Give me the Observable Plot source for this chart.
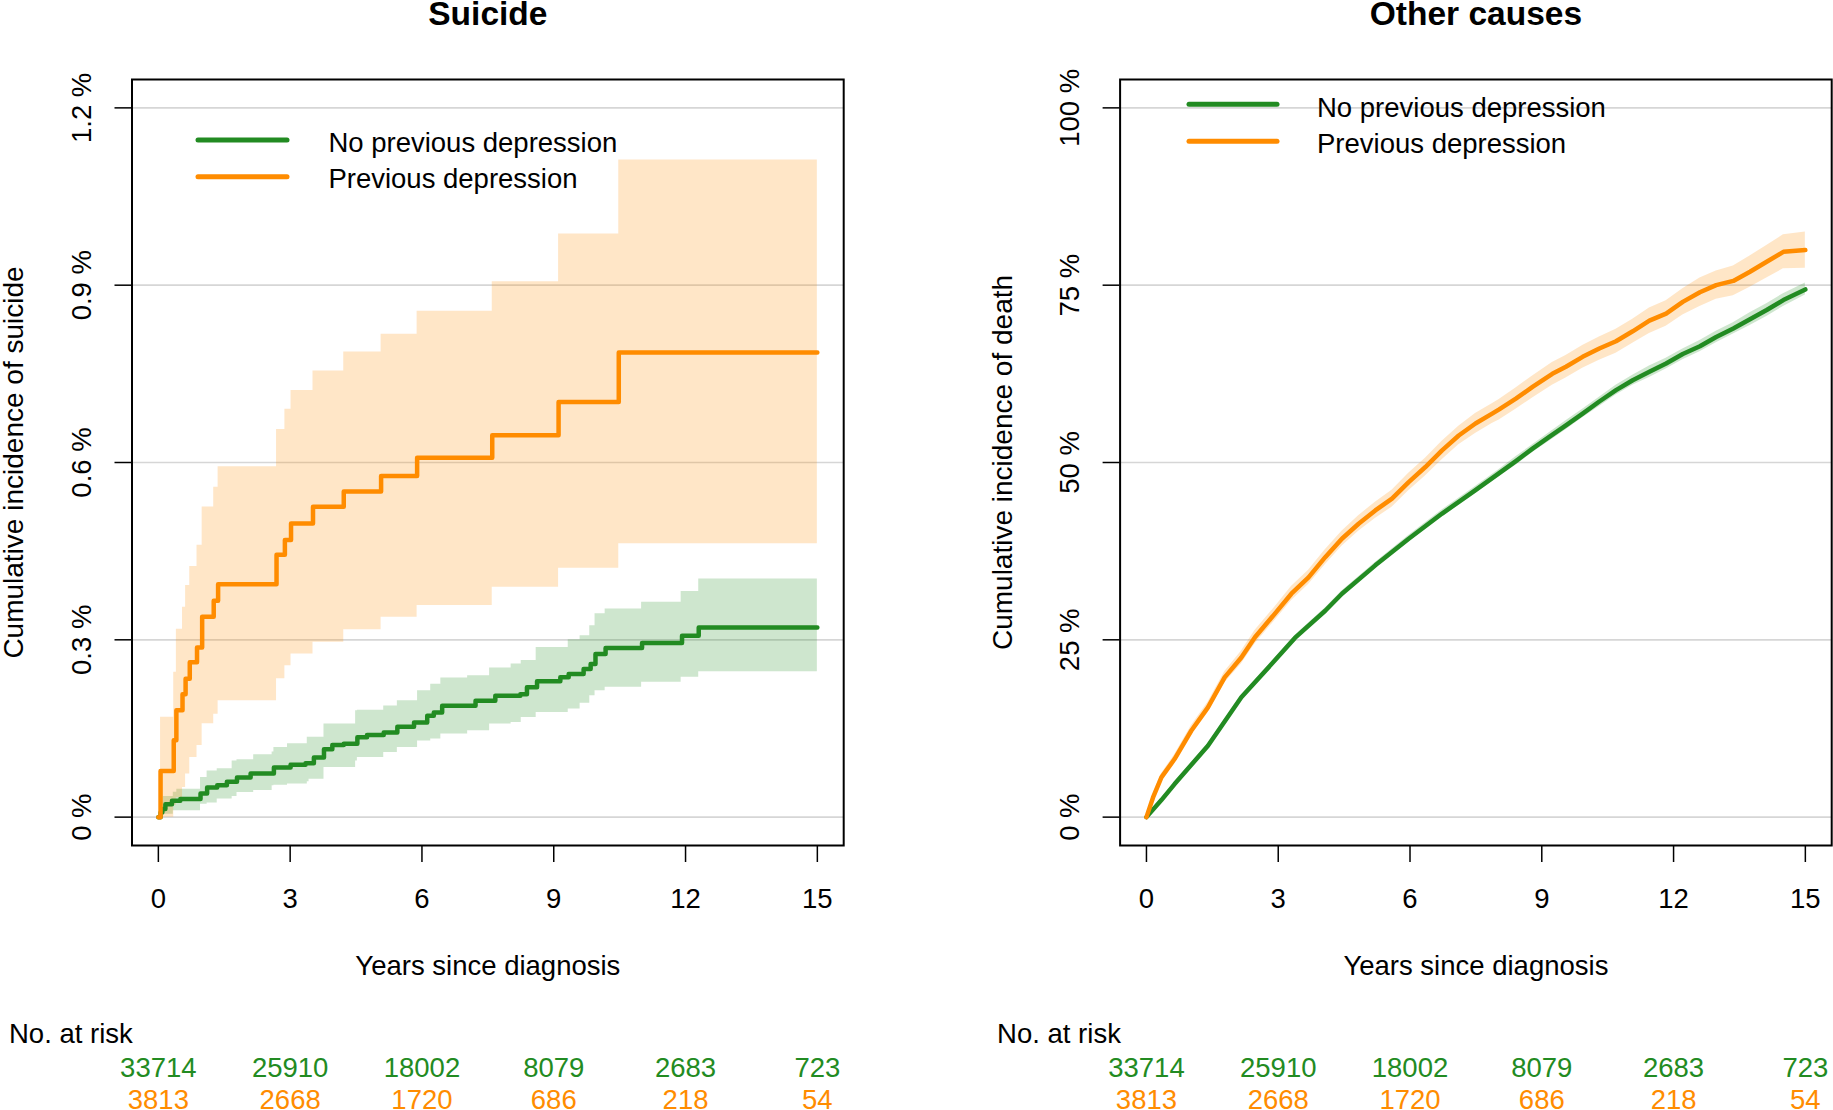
<!DOCTYPE html>
<html><head><meta charset="utf-8">
<script src="https://cdn.jsdelivr.net/npm/d3@7"></script>
<script src="https://cdn.jsdelivr.net/npm/@observablehq/plot@0.6"></script>
<style>
html,body{margin:0;padding:0;background:#fff;}
#wrap{position:relative;width:1833px;height:1110px;overflow:hidden;background:#fff;}
</style></head><body><div id="wrap"></div>
<script>
const GREEN = "#228B22", ORANGE = "#FF8C00";
const groups = ["No previous depression", "Previous depression"];
const xTicks = [0, 3, 6, 9, 12, 15];
const riskNoDep = [33714, 25910, 18002, 8079, 2683, 723];
const riskDep = [3813, 2668, 1720, 686, 218, 54];

// ---- Suicide panel (values in %) ----
const suiTicks = [0, 0.3, 0.6, 0.9, 1.2];
const suiTickLabels = ["0 %", "0.3 %", "0.6 %", "0.9 %", "1.2 %"];
// Previous depression: step curve with CI
const sDepT  = [0, 0.05, 0.35, 0.41, 0.55, 0.62, 0.715, 0.88, 0.997, 1.26, 1.36, 2.69, 2.88, 3.02, 3.52, 4.22, 5.07, 5.89, 7.60, 9.11, 10.48, 15.0];
const sDepV  = [0, 0.078, 0.130, 0.181, 0.208, 0.234, 0.262, 0.287, 0.339, 0.366, 0.394, 0.444, 0.469, 0.497, 0.525, 0.551, 0.577, 0.608, 0.646, 0.7025, 0.786, 0.786];
const sDepLo = [0, 0, 0.02, 0.033, 0.05, 0.073, 0.101, 0.121, 0.158, 0.174, 0.197, 0.234, 0.256, 0.276, 0.296, 0.317, 0.338, 0.358, 0.389, 0.421, 0.4625, 0.4625];
const sDepHi = [0, 0.169, 0.245, 0.318, 0.355, 0.392, 0.424, 0.46, 0.5245, 0.558, 0.593, 0.656, 0.69, 0.722, 0.755, 0.787, 0.817, 0.856, 0.906, 0.9865, 1.112, 1.112];
// No previous depression: step curve
const sNoT = [0, 0.05, 0.09, 0.16, 0.31, 0.5, 0.96, 1.11, 1.34, 1.56, 1.79, 2.1, 2.63, 3.01, 3.35, 3.54, 3.77, 3.96, 4.22, 4.53, 4.75, 5.13, 5.44, 5.82, 6.12, 6.27, 6.46, 7.22, 7.67, 8.24, 8.39, 8.62, 9.15, 9.34, 9.68, 9.84, 9.95, 10.18, 11.01, 11.92, 12.3, 15.0];
const sNoV = [0, 0.008, 0.0136, 0.022, 0.0276, 0.0305, 0.040, 0.050, 0.054, 0.060, 0.067, 0.074, 0.084, 0.0886, 0.091, 0.101, 0.115, 0.122, 0.124, 0.135, 0.139, 0.143, 0.153, 0.160, 0.1716, 0.177, 0.1886, 0.197, 0.2055, 0.208, 0.2196, 0.2297, 0.2365, 0.242, 0.2507, 0.259, 0.276, 0.286, 0.2948, 0.307, 0.321, 0.321];
// No previous depression: CI band
const sNoBandT  = [0, 0.11, 0.34, 0.42, 0.96, 1.11, 1.34, 1.68, 1.79, 2.17, 2.59, 2.63, 2.94, 3.39, 3.43, 3.77, 4.49, 4.53, 5.13, 5.44, 5.9, 6.2, 6.43, 7.04, 7.54, 8.03, 8.26, 8.6, 9.33, 9.6, 9.82, 9.94, 10.17, 11.0, 11.9, 12.3, 15.0];
const sNoBandLo = [0, 0.005, 0.0107, 0.011, 0.022, 0.024, 0.0305, 0.035, 0.0417, 0.045, 0.053, 0.054, 0.056, 0.060, 0.064, 0.084, 0.095, 0.101, 0.1094, 0.118, 0.129, 0.132, 0.1406, 0.146, 0.1576, 0.160, 0.1687, 0.177, 0.183, 0.1925, 0.2055, 0.214, 0.2196, 0.228, 0.2365, 0.246, 0.246];
const sNoBandHi = [0, 0.035, 0.042, 0.047, 0.067, 0.078, 0.082, 0.095, 0.097, 0.1055, 0.110, 0.118, 0.124, 0.135, 0.135, 0.1576, 0.180, 0.181, 0.188, 0.197, 0.214, 0.225, 0.2355, 0.239, 0.2524, 0.259, 0.265, 0.287, 0.300, 0.307, 0.324, 0.344, 0.352, 0.3636, 0.3817, 0.403, 0.403];

// ---- Other causes panel (values in %) ----
const othTicks = [0, 25, 50, 75, 100];
const othTickLabels = ["0 %", "25 %", "50 %", "75 %", "100 %"];
const oDepT  = [0, 0.15, 0.34, 0.64, 1.02, 1.40, 1.78, 2.16, 2.47, 2.92, 3.30, 3.69, 4.07, 4.45, 4.83, 5.21, 5.59, 5.97, 6.35, 6.73, 7.11, 7.49, 7.87, 8.03, 8.41, 8.79, 9.24, 9.55, 9.93, 10.31, 10.69, 11.07, 11.45, 11.83, 12.21, 12.60, 12.97, 13.36, 13.74, 14.12, 14.50, 15.0];
const oDepV  = [0, 2.77, 5.6, 8.19, 12.18, 15.47, 19.7, 22.5, 25.36, 28.66, 31.5, 33.8, 36.65, 39.25, 41.37, 43.24, 44.9, 47.24, 49.36, 51.7, 53.8, 55.5, 56.9, 57.5, 59.0, 60.65, 62.5, 63.5, 64.9, 66.07, 67.1, 68.5, 70.0, 71.0, 72.65, 74.0, 75.0, 75.6, 76.9, 78.3, 79.7, 79.95];
const oDepLo = [0, 2.4, 5.1, 7.6, 11.5, 14.7, 18.9, 21.6, 24.4, 27.7, 30.5, 32.8, 35.6, 38.2, 40.3, 42.1, 43.7, 46.0, 48.1, 50.4, 52.5, 54.1, 55.5, 56.0, 57.5, 59.1, 60.9, 61.9, 63.3, 64.4, 65.4, 66.8, 68.2, 69.2, 70.8, 72.0, 73.0, 73.5, 74.7, 76.0, 77.3, 77.4];
const oDepHi = [0, 3.2, 6.1, 8.8, 12.9, 16.2, 20.5, 23.4, 26.3, 29.6, 32.5, 34.8, 37.7, 40.3, 42.5, 44.4, 46.1, 48.5, 50.6, 53.0, 55.1, 56.9, 58.3, 58.9, 60.5, 62.2, 64.1, 65.1, 66.5, 67.7, 68.8, 70.2, 71.8, 72.8, 74.5, 76.0, 77.0, 77.7, 79.1, 80.6, 82.1, 82.5];
const oNoT  = [0, 0.34, 0.64, 1.40, 2.16, 2.92, 3.38, 4.07, 4.45, 5.21, 5.97, 6.73, 7.49, 8.03, 8.41, 8.79, 9.17, 9.55, 9.93, 10.31, 10.69, 11.07, 11.45, 11.83, 12.21, 12.60, 12.97, 13.36, 13.74, 14.12, 14.50, 15.0];
const oNoV  = [0, 2.4, 4.66, 10.07, 16.9, 22.07, 25.27, 29.1, 31.5, 35.5, 39.25, 42.8, 46.1, 48.5, 50.2, 51.95, 53.6, 55.24, 56.9, 58.6, 60.2, 61.6, 62.8, 63.96, 65.3, 66.4, 67.7, 68.9, 70.2, 71.5, 72.9, 74.4];
const oNoLo = [0, 2.2, 4.4, 9.8, 16.6, 21.7, 24.9, 28.7, 31.1, 35.1, 38.8, 42.3, 45.6, 48.0, 49.6, 51.4, 53.0, 54.6, 56.3, 57.9, 59.5, 60.9, 62.0, 63.2, 64.5, 65.6, 66.9, 68.1, 69.3, 70.6, 72.0, 73.6];
const oNoHi = [0, 2.6, 4.9, 10.35, 17.2, 22.4, 25.6, 29.5, 31.9, 35.9, 39.7, 43.3, 46.6, 49.0, 50.8, 52.5, 54.2, 55.9, 57.5, 59.2, 60.9, 62.3, 63.6, 64.7, 66.0, 67.2, 68.5, 69.7, 71.1, 72.4, 73.8, 75.3];

const rows = (t, v, lo, hi) => t.map((d, i) => ({t: d, v: v ? v[i] : null, lo: lo ? lo[i] : null, hi: hi ? hi[i] : null}));

const FONT = "'Liberation Sans', Arial, sans-serif";

function makePanel(cfg) {
  const {title, ylab, yDomain, yTicks, yLabels, curve, bands, lines, svgLeft, svgWidth, mL, mR} = cfg;
  const svg = Plot.plot({
    width: svgWidth, height: 1110,
    marginLeft: mL, marginRight: mR, marginTop: 79, marginBottom: 265,
    x: {domain: [-0.6, 15.6], label: null},
    y: {domain: yDomain, label: null},
    style: {fontFamily: FONT, fontSize: "27.5px", color: "black", background: "white", overflow: "visible"},
    marks: [
      Plot.gridY({ticks: yTicks, stroke: "#d6d6d6", strokeOpacity: 1, strokeWidth: 1.7}),
      ...bands.map(b => Plot.areaY(b.rows, {x: "t", y1: "lo", y2: "hi", fill: b.color, fillOpacity: 0.22, curve})),
      ...lines.map(l => Plot.line(l.rows, {x: "t", y: "v", stroke: l.color, strokeWidth: 4.5, curve, strokeLinejoin: "round", strokeLinecap: "round"})),
      Plot.frame({stroke: "black", strokeWidth: 2}),
      Plot.axisX({ticks: xTicks, tickSize: 17, tickPadding: 25.5, strokeWidth: 1.5, label: null}),
      Plot.axisY({ticks: yTicks, tickSize: 17, tickFormat: () => "", strokeWidth: 1.5, label: null}),
      Plot.text(yTicks, {y: d => d, text: (d, i) => yLabels[i], frameAnchor: "left", dx: -50, rotate: -90, textAnchor: "middle", lineAnchor: "middle"}),
      Plot.text([ylab], {text: d => d, frameAnchor: "left", dx: -117.5, rotate: -90, textAnchor: "middle", lineAnchor: "middle", fontSize: 28}),
      Plot.text([title], {text: d => d, frameAnchor: "top", dy: -55, lineAnchor: "bottom", fontWeight: "bold", fontSize: 33.5}),
      Plot.text(["Years since diagnosis"], {text: d => d, frameAnchor: "bottom", dy: 129, lineAnchor: "bottom"}),
      Plot.text(["No. at risk"], {text: d => d, frameAnchor: "bottom-left", dx: -123, dy: 197.5, textAnchor: "start", lineAnchor: "bottom"}),
      Plot.text(xTicks, {x: d => d, text: (d, i) => String(riskNoDep[i]), frameAnchor: "bottom", dy: 231.7, lineAnchor: "bottom", fill: GREEN}),
      Plot.text(xTicks, {x: d => d, text: (d, i) => String(riskDep[i]), frameAnchor: "bottom", dy: 263, lineAnchor: "bottom", fill: ORANGE})
    ]
  });
  svg.style.position = "absolute";
  svg.style.left = svgLeft + "px";
  svg.style.top = "0px";
  document.getElementById("wrap").appendChild(svg);
}

makePanel({
  title: "Suicide", ylab: "Cumulative incidence of suicide",
  yDomain: [-0.048, 1.248], yTicks: suiTicks, yLabels: suiTickLabels, curve: "step-after",
  bands: [
    {rows: rows(sNoBandT, null, sNoBandLo, sNoBandHi), color: GREEN},
    {rows: rows(sDepT, null, sDepLo, sDepHi), color: ORANGE}
  ],
  lines: [
    {rows: rows(sNoT, sNoV), color: GREEN},
    {rows: rows(sDepT, sDepV), color: ORANGE}
  ],
  svgLeft: 0, svgWidth: 917, mL: 131.5, mR: 73.8
});

makePanel({
  title: "Other causes", ylab: "Cumulative incidence of death",
  yDomain: [-4, 104], yTicks: othTicks, yLabels: othTickLabels, curve: "linear",
  bands: [
    {rows: rows(oNoT, null, oNoLo, oNoHi), color: GREEN},
    {rows: rows(oDepT, null, oDepLo, oDepHi), color: ORANGE}
  ],
  lines: [
    {rows: rows(oNoT, oNoV), color: GREEN},
    {rows: rows(oDepT, oDepV), color: ORANGE}
  ],
  svgLeft: 917, svgWidth: 916, mL: 202.6, mR: 1.8
});

// Legends (overlay)
const colors = [GREEN, ORANGE];
const legends = [
  {x1: 198, x2: 287, tx: 328.4, ly: [140, 176.7], by: [152.3, 187.7]},
  {x1: 1189, x2: 1277, tx: 1317, ly: [104.3, 141.3], by: [117.3, 152.7]}
];
const ov = d3.create("svg").attr("width", 1833).attr("height", 1110)
  .style("position", "absolute").style("left", "0px").style("top", "0px").style("pointer-events", "none");
for (const lg of legends) {
  groups.forEach((g, i) => {
    ov.append("line").attr("x1", lg.x1).attr("x2", lg.x2).attr("y1", lg.ly[i]).attr("y2", lg.ly[i])
      .attr("stroke", colors[i]).attr("stroke-width", 5).attr("stroke-linecap", "round");
    ov.append("text").attr("x", lg.tx).attr("y", lg.by[i]).text(g)
      .attr("font-family", FONT).attr("font-size", 27.5).attr("fill", "black");
  });
}
document.getElementById("wrap").appendChild(ov.node());
</script></body></html>
